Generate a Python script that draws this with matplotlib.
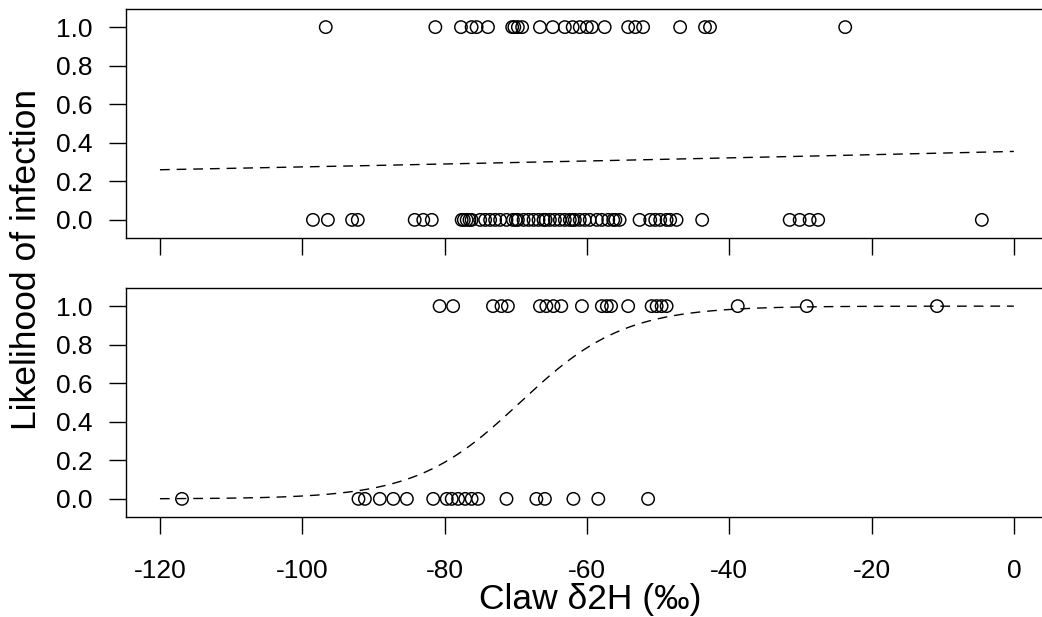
import numpy as np
import matplotlib
matplotlib.use("Agg")
import matplotlib.pyplot as plt

plt.rcParams['font.family'] = ['Liberation Sans', 'DejaVu Sans']

# ---- data ----
top_infected_x = [-96.7, -81.3, -77.7, -76.2, -75.5, -73.9, -70.5, -70.2, -69.7, -69.1,
                  -66.6, -64.8, -63.1, -62.0, -61.0, -60.0, -59.3, -57.5, -54.2, -53.2,
                  -52.1, -46.9, -43.4, -42.7, -23.7]
top_clean_x = [-98.5, -96.4, -93.0, -92.2, -84.2, -83.0, -81.8, -77.6, -77.3, -76.9,
               -76.5, -76.2, -75.0, -74.3, -73.6, -72.9, -72.2, -71.3, -70.4, -70.0,
               -69.7, -68.9, -68.2, -67.5, -66.8, -66.1, -65.8, -65.2, -64.5, -63.8,
               -63.1, -62.4, -62.0, -61.7, -61.0, -60.3, -59.6, -58.6, -57.9, -57.0,
               -56.3, -56.0, -55.4, -52.6, -51.1, -50.4, -49.7, -48.8, -48.3, -47.4,
               -43.8, -31.5, -30.1, -28.7, -27.5, -4.5]
bot_infected_x = [-80.7, -78.8, -73.2, -72.0, -71.1, -66.6, -65.7, -64.7, -63.6, -60.7,
                  -57.9, -57.2, -56.6, -54.2, -50.9, -50.2, -49.5, -48.8, -38.8, -29.1,
                  -10.8]
bot_clean_x = [-116.9, -92.1, -91.2, -89.1, -87.2, -85.3, -81.6, -79.7, -79.0, -78.1,
               -77.1, -76.2, -75.3, -71.3, -67.1, -65.9, -61.9, -58.4, -51.4]

# fitted logistic model coefficients (intercept, slope)
top_fit = (-0.597, 0.00374)
bot_fit = (9.51, 0.137)   # logit = 0.137*(x + 69.4)

x_ticks = [-120, -100, -80, -60, -40, -20, 0]
y_ticks = [0.0, 0.2, 0.4, 0.6, 0.8, 1.0]
y_ticklabels = ["0.0", "0.2", "0.4", "0.6", "0.8", "1.0"]
x_label = "Claw δ2H (‰)"
y_label = "Likelihood of infection"

W, H = 1042, 617
fig = plt.figure(figsize=(W / 100, H / 100), dpi=100)

def px_axes(x0, y0, x1, y1):
    return fig.add_axes([x0 / W, 1 - y1 / H, (x1 - x0) / W, (y1 - y0) / H])

ax_top = px_axes(125.8, 9, 1048, 238)
ax_bot = px_axes(125.8, 288, 1048, 517)

xfit = np.linspace(-120, 0, 400)

def draw(ax, xs1, xs0, fit, show_xlabels):
    ax.scatter(xs1, np.ones(len(xs1)), s=80, facecolors='none', edgecolors='black',
               linewidths=1.05, zorder=3)
    ax.scatter(xs0, np.zeros(len(xs0)), s=80, facecolors='none', edgecolors='black',
               linewidths=1.05, zorder=3)
    a, b = fit
    p = 1 / (1 + np.exp(-(a + b * xfit)))
    ax.plot(xfit, p, color='black', lw=1.0, linestyle=(0, (7, 5)), zorder=2)
    ax.set_xlim(-124.8, 4.8)
    ax.set_ylim(-0.094, 1.094)
    ax.set_yticks(y_ticks)
    ax.set_yticklabels(y_ticklabels)
    ax.set_xticks(x_ticks)
    if show_xlabels:
        ax.set_xticklabels([str(t) for t in x_ticks])
    else:
        ax.set_xticklabels([])
    ax.tick_params(axis='both', length=12, width=1.0, labelsize=19, direction='out')
    ax.tick_params(axis='y', pad=12)
    ax.tick_params(axis='x', pad=18)
    for s in ax.spines.values():
        s.set_linewidth(1.0)

draw(ax_top, top_infected_x, top_clean_x, top_fit, False)
draw(ax_bot, bot_infected_x, bot_clean_x, (bot_fit[1] * 69.4, bot_fit[1]), True)

fig.text(590 / W, 1 - 600 / H, x_label, ha='center', va='center', fontsize=25.5)
fig.text(27 / W, 1 - 260 / H, y_label, ha='center', va='center', fontsize=25.5,
         rotation=90)

fig.savefig("out.png", dpi=100)
